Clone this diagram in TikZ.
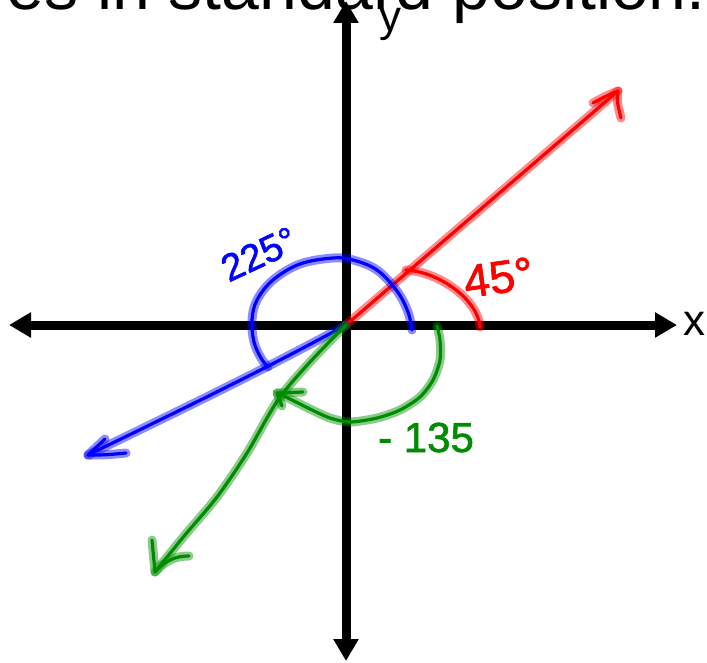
\documentclass[tikz,border=0pt]{standalone}
\usepackage{fontspec}
\setmainfont{Liberation Sans}
\newfontfamily\handfont[FakeBold=1.5]{Liberation Sans}
\usetikzlibrary{arrows.meta}
\definecolor{pred}{RGB}{255,0,0}
\definecolor{pblue}{RGB}{0,0,255}
\definecolor{pgreen}{RGB}{0,140,0}
\tikzset{
  axis/.style={line width=9pt, {Triangle[length=22pt,width=24pt]}-{Triangle[length=22pt,width=24pt]}},
  pen/.style={line width=3.2pt, line cap=round, line join=round, draw=#1},
  glow/.style={line width=9pt, line cap=round, line join=round, draw=#1, draw opacity=0.45},
  axislabel/.style={inner sep=0pt, anchor=base, font=\fontsize{44}{44}\selectfont},
  inktext/.style={inner sep=0pt, text=#1}
}
\newcommand\ink[2]{\draw[glow=#1] #2; \draw[pen=#1] #2;}
\begin{document}
\begin{tikzpicture}[x=1pt,y=-1pt]
\useasboundingbox (0,0) rectangle (707,663);
% axes
\coordinate (O) at (346,325);
\coordinate (xl) at (9,325);
\coordinate (xr) at (677,325);
\coordinate (yt) at (346,1);
\coordinate (yb) at (346,661);
\draw[axis] (xl) -- (xr);
\draw[axis] (yb) -- (yt);
\node[axislabel] (xlab) at (694,335) {x};
\node[axislabel] (ylab) at (390,32) {y};
% title (cut at top)
\node[anchor=base east, inner sep=0pt, font=\fontsize{68}{70}\selectfont] (title) at (706,9.5) {es in standard position.};
% red 45
\coordinate (rt) at (618,91);
\ink{pred}{(O) -- (rt)}
\ink{pred}{(593,103) .. controls (606,96) .. (rt) .. controls (617,102) .. (621,118)}
\ink{pred}{(406,270) .. controls (440,272) and (478,300) .. (480,327)}
% blue 225
\coordinate (bt) at (88,455);
\ink{pblue}{(O) .. controls (260,372) and (170,415) .. (bt)}
\ink{pblue}{(105,439) .. controls (97,447) .. (bt) .. controls (105,455) .. (126,453)}
\ink{pblue}{plot[smooth, tension=0.6] coordinates {(268,367) (261,358) (254,342) (252,320) (257,300) (273,280) (300,264) (333,258) (353,260) (377,270) (397,291) (408,312) (412,330)}}
% green -135
\coordinate (gt) at (155,572);
\ink{pgreen}{plot[smooth] coordinates {(O) (310,362) (278,400) (247,453) (217,497) (185,535) (gt)}}
\ink{pgreen}{(152,540) -- (gt) .. controls (166,560) and (176,556) .. (189,556)}
\ink{pgreen}{plot[smooth] coordinates {(437,326) (440,340) (440,360) (433,380) (420,397) (400,410) (377,418) (350,422) (330,418) (310,409) (290,399) (277,393)}}
\ink{pgreen}{(282,406) -- (277,393) -- (303,392)}
% labels
\node[inktext=pred, anchor=base west, rotate=8, font=\handfont\fontsize{46}{46}\selectfont] (l45) at (466,298) {45°};
\node[inktext=pblue, rotate=25, font=\handfont\fontsize{38}{38}\selectfont] (l225) at (259,254) {225°};
\node[inktext=pgreen, anchor=base west, font=\handfont\fontsize{42}{42}\selectfont] (l135) at (378,452) {- 135};
\end{tikzpicture}
\end{document}
